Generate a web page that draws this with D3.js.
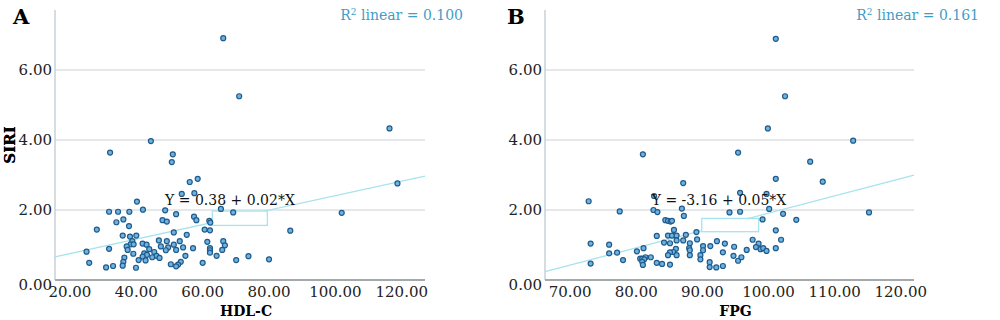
<!DOCTYPE html>
<html>
<head>
<meta charset="utf-8">
<script src="https://cdn.jsdelivr.net/npm/d3@7"></script>
<style>
  body { margin: 0; background: #fff; }
  text { font-family: "DejaVu Serif", serif; }
</style>
</head>
<body>
<div id="chart"></div>
<script>
// data
var hdlX = [44.4,32.1,51.0,50.7,58.5,56.1,53.7,57.5,40.2,42.0,31.8,34.5,37.9,48.7,52.0,36.1,34.0,47.9,49.2,57.4,
  58.1,37.8,28.1,51.3,35.9,38.1,40.0,55.2,38.8,38.3,39.2,37.1,41.9,43.1,46.8,49.2,53.1,51.3,47.4,49.6,
  54.1,57.1,31.8,37.4,25.0,43.9,42.4,45.4,48.9,52.0,39.1,43.2,46.1,47.0,44.8,41.9,36.4,40.7,42.8,54.8,
  25.8,36.1,35.9,33.0,30.9,39.9,50.4,53.4,52.6,52.0,60.0,66.2,71.0,65.5,69.2,62.0,62.3,60.6,62.2,86.4,
  61.4,66.2,66.7,65.9,62.2,62.2,62.2,64.2,70.1,73.8,80.0,101.9,116.3,118.7];
var hdlY = [3.97,3.64,3.59,3.37,2.89,2.80,2.46,2.48,2.24,2.01,1.95,1.95,1.95,1.99,1.88,1.73,1.65,1.71,1.67,1.81,
  1.71,1.54,1.44,1.36,1.27,1.24,1.27,1.29,1.11,1.02,1.02,0.96,1.04,1.01,1.13,1.11,1.11,1.01,0.96,0.93,
  0.93,0.91,0.89,0.86,0.81,0.88,0.76,0.80,0.85,0.86,0.75,0.72,0.69,0.63,0.65,0.67,0.64,0.57,0.56,0.69,
  0.49,0.52,0.41,0.40,0.36,0.35,0.45,0.52,0.44,0.39,0.49,6.91,5.25,2.03,1.93,1.69,1.64,1.44,1.42,1.41,
  1.09,1.11,0.99,0.86,0.91,0.85,0.78,0.69,0.57,0.68,0.59,1.92,4.33,2.76];

var fpgX = [81.0,87.1,72.8,82.7,77.5,82.6,83.2,86.9,87.2,84.4,84.8,85.2,85.4,85.7,84.8,85.4,86.1,83.1,89.1,87.5,
  86.1,87.1,89.2,73.1,75.9,84.2,85.1,88.1,81.1,80.1,86.0,85.6,85.1,84.8,88.0,88.1,75.9,77.1,86.1,88.1,
  81.4,82.2,80.6,80.9,81.2,78.0,80.9,81.0,73.1,83.1,83.9,85.1,
  101.1,102.5,99.9,112.8,95.4,106.3,108.2,101.1,95.7,99.7,100.1,102.2,94.1,95.7,99.1,104.2,115.2,101.1,101.9,97.6,
  98.5,98.1,98.8,99.2,99.7,101.1,96.7,94.8,93.4,92.2,91.2,90.1,90.1,89.7,89.7,93.1,94.7,95.4,95.9,91.1,
  91.1,92.1,93.1];
var fpgY = [3.59,2.77,2.25,2.40,1.96,2.00,1.94,2.04,1.83,1.71,1.69,1.67,1.69,1.43,1.27,1.27,1.27,1.26,1.37,1.29,
  1.13,1.13,1.16,1.04,1.01,1.07,1.05,1.05,0.91,0.82,0.89,0.80,0.79,0.71,0.91,0.85,0.76,0.78,0.71,0.71,
  0.65,0.65,0.61,0.61,0.59,0.57,0.52,0.43,0.47,0.49,0.46,0.44,
  6.89,5.25,4.33,3.98,3.64,3.38,2.81,2.89,2.49,2.46,2.03,1.89,1.93,1.95,1.73,1.72,1.93,1.42,1.15,1.15,
  1.04,0.94,0.88,0.91,0.83,0.91,0.86,0.95,1.04,1.11,0.97,0.97,0.85,0.71,0.59,0.79,0.69,0.55,0.65,0.51,
  0.37,0.36,0.40];

var yTicks = [0, 2, 4, 6];
var hdlTicks = [20, 40, 60, 80, 100, 120];
var fpgTicks = [70, 80, 90, 100, 110, 120];

// fitted lines as drawn (intercept, slope) and their labels
var hdlFit = [0.34, 0.0207];
var fpgFit = [-3.04, 0.0495];
var hdlEq = "Y = 0.38 + 0.02*X";
var fpgEq = "Y = -3.16 + 0.05*X";
var hdlR2 = "0.100";
var fpgR2 = "0.161";
// label box corners [x0, x1, y0, y1] in data units
var hdlBox = [62.9, 79.5, 1.97, 1.56];
var fpgBox = [89.9, 98.5, 1.76, 1.38];

var svg = d3.select("#chart").append("svg")
  .attr("width", 1000)
  .attr("height", 320);

function drawPanel(p) {
  var x = d3.scaleLinear().domain(p.xDomain).range([p.left, p.right]);
  var y = d3.scaleLinear().domain([0, 7.714]).range([280, 10]);
  var g = svg.append("g");

  // grid lines
  g.selectAll(".grid")
    .data(yTicks.filter(d => d > 0))
    .enter().append("line")
    .attr("x1", p.left).attr("x2", p.right)
    .attr("y1", d => y(d)).attr("y2", d => y(d))
    .attr("stroke", "#dde1e3")
    .attr("stroke-width", 1.5);

  // axes lines
  g.append("line")
    .attr("x1", p.left).attr("x2", p.left)
    .attr("y1", 10).attr("y2", 280)
    .attr("stroke", "#c8d2d6").attr("stroke-width", 1.5);
  g.append("line")
    .attr("x1", p.left).attr("x2", p.right)
    .attr("y1", 280).attr("y2", 280)
    .attr("stroke", "#a4a9ac").attr("stroke-width", 2);

  // tick labels
  g.selectAll(".yt")
    .data(yTicks)
    .enter().append("text")
    .attr("x", p.left - 3)
    .attr("y", d => y(d) + (d === 0 ? 10 : 5))
    .attr("text-anchor", "end")
    .style("font-size", "15px")
    .attr("fill", "#222")
    .text(d => d.toFixed(2));
  g.selectAll(".xt")
    .data(p.ticks)
    .enter().append("text")
    .attr("x", d => x(d))
    .attr("y", 297)
    .attr("text-anchor", "middle")
    .style("font-size", "15px")
    .attr("fill", "#222")
    .text(d => d.toFixed(2));

  // axis titles and panel letter
  g.append("text")
    .attr("transform", "translate(15," + 145 + ") rotate(-90)")
    .attr("text-anchor", "middle")
    .style("font-size", "15px").style("font-weight", "bold")
    .text("SIRI");
  g.append("text")
    .attr("x", (p.left + p.right) / 2 + 6)
    .attr("y", 316)
    .attr("text-anchor", "middle")
    .style("font-size", "14px").style("font-weight", "bold")
    .text(p.xTitle);
  g.append("text")
    .attr("x", p.letterX)
    .attr("y", 24)
    .style("font-size", "21px").style("font-weight", "bold")
    .text(p.letter);

  // fit line
  var f = p.fit;
  g.append("line")
    .attr("x1", x(p.xDomain[0])).attr("y1", y(f[0] + f[1] * p.xDomain[0]))
    .attr("x2", x(p.xDomain[1])).attr("y2", y(f[0] + f[1] * p.xDomain[1]))
    .attr("stroke", "#a6e3ee").attr("stroke-width", 1.3);

  // label box
  var b = p.box;
  g.append("rect")
    .attr("x", x(b[0])).attr("y", y(b[2]))
    .attr("width", x(b[1]) - x(b[0]))
    .attr("height", y(b[3]) - y(b[2]))
    .attr("fill", "#fff")
    .attr("stroke", "#a6e3ee").attr("stroke-width", 1.3);

  // points
  g.selectAll(".pt")
    .data(p.xs.map((v, i) => [v, p.ys[i]]))
    .enter().append("circle")
    .attr("cx", d => x(d[0]))
    .attr("cy", d => y(d[1]))
    .attr("r", 2.5)
    .attr("fill", "#6eb2de")
    .attr("stroke", "#1f5a8c")
    .attr("stroke-width", 1.2);

  // equation
  g.append("text")
    .attr("x", p.eqX)
    .attr("y", 205)
    .attr("text-anchor", "middle")
    .style("font-size", "14px")
    .attr("fill", "#111")
    .text(p.eq);

  // R2
  var r = g.append("text")
    .attr("x", p.r2X)
    .attr("y", 20)
    .attr("text-anchor", "end")
    .style("font-size", "14px")
    .attr("fill", "#3f9dc8");
  r.append("tspan").text("R");
  r.append("tspan").attr("dy", -5).style("font-size", "9px").text("2");
  r.append("tspan").attr("dy", 5).text(" linear = " + p.r2);
}

drawPanel({
  xs: hdlX, ys: hdlY, xDomain: [15.5, 127], left: 55, right: 425,
  ticks: hdlTicks, xTitle: "HDL-C", letter: "A", letterX: 13,
  fit: hdlFit, box: hdlBox, eq: hdlEq, eqX: 230, r2: hdlR2, r2X: 463
});
drawPanel({
  xs: fpgX, ys: fpgY, xDomain: [66.2, 122], left: 545, right: 914,
  ticks: fpgTicks, xTitle: "FPG", letter: "B", letterX: 507,
  fit: fpgFit, box: fpgBox, eq: fpgEq, eqX: 719, r2: fpgR2, r2X: 979
});
</script>
</body>
</html>
